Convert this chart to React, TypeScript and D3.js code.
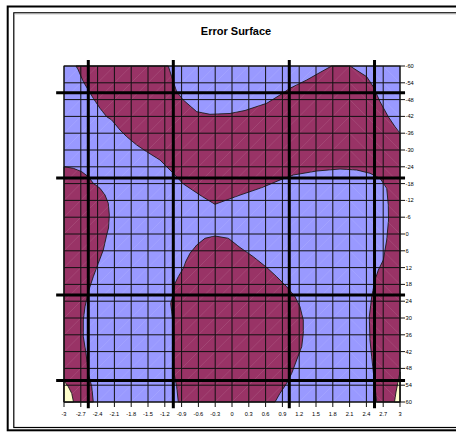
import React from 'react';
import * as d3 from 'd3';

type P = [number, number];

const xLabels = ["-3","-2.7","-2.4","-2.1","-1.8","-1.5","-1.2","-0.9","-0.6","-0.3","0","0.3","0.6","0.9","1.2","1.5","1.8","2.1","2.4","2.7","3"];
const yLabels = ["-60","-54","-48","-42","-36","-30","-24","-18","-12","-6","0","6","12","18","24","30","36","42","48","54","60"];

// contour band (level 2) regions, traced in data units
const topBand: P[] = [
  [-2.786,-60],[-1.138,-60],[-1.048,-54.39],[-0.988,-50.82],[-0.870,-47.86],[-0.630,-43.68],[-0.393,-42.75],
  [-0.036,-43.04],[0.232,-44.11],[0.620,-46.68],[0.857,-49.64],[1.036,-52.04],[1.334,-55],[1.571,-57.68],
  [1.780,-60],[2.107,-60],[2.405,-56.18],[2.523,-52.61],[2.643,-47.25],[2.791,-41.89],[2.911,-38.32],[3,-35.96],
  [3,60],[2.584,60],[2.513,47.39],[2.464,37.86],[2.452,29.54],[2.495,22.39],[2.554,16.43],[2.613,12.86],
  [2.702,9.29],[2.763,2.14],[2.795,-5],[2.791,-10.36],[2.763,-16.32],[2.643,-19.89],[2.464,-21.68],
  [2.227,-22.86],[1.929,-23.21],[1.513,-22.5],[1.095,-21.07],[0.857,-19.29],[0.536,-16.6],[0.143,-13.9],
  [-0.304,-10.61],[-0.548,-13.6],[-0.870,-17.9],[-1.048,-21.68],[-1.286,-26.43],[-1.523,-29.39],[-1.702,-31.79],
  [-1.880,-34.75],[-2,-37.14],[-2.148,-40.71],[-2.238,-41.89],[-2.357,-44.89],[-2.477,-48.46],[-2.566,-51.43],
  [-2.655,-54.39],[-2.745,-58.57]
];
const leftStrip: P[] = [
  [-3,-24.04],[-2.834,-23.46],[-2.684,-22.25],[-2.566,-20.46],[-2.477,-18.11],[-2.357,-16.32],[-2.268,-13.93],
  [-2.209,-10.96],[-2.191,-6.79],[-2.205,-2.14],[-2.238,0.36],[-2.298,5.71],[-2.388,10.46],[-2.477,15.25],
  [-2.566,20.61],[-2.625,25.96],[-2.655,30.71],[-2.655,36.68],[-2.607,42.61],[-2.566,49.75],[-2.505,54.54],
  [-2.477,60],[-3,60]
];
const bottomBlob: P[] = [
  [-0.959,60],[-0.988,54.54],[-1.036,49.75],[-1.059,45],[-1.036,37.86],[-1.059,30.71],[-1.095,24.75],
  [-1.048,21.79],[-1.018,17.61],[-0.959,15.25],[-0.870,12.25],[-0.821,9.64],[-0.75,6.89],[-0.630,3.93],
  [-0.482,1.54],[-0.304,0.71],[-0.066,1.54],[0.143,4.82],[0.380,8.11],[0.620,11.96],[0.798,15.25],
  [0.977,18.82],[1.125,22.39],[1.214,25.96],[1.273,30.71],[1.273,35.46],[1.245,40.25],[1.155,45],
  [1.066,49.75],[0.977,53.32],[0.857,56.89],[0.768,60]
];
// contour band (level 0) regions
const yellowLeft: P[] = [[-3,52.5],[-2.923,54.54],[-2.863,56.89],[-2.830,60],[-3,60]];
const yellowRight: P[] = [[3,49.29],[2.964,52.86],[2.929,56.43],[2.902,60],[3,60]];

// overlaid thick marker lines
const thickX = [-2.566, -1.048, 1.023, 2.545];
const thickY = [-50.46, -20, 21.8, 52.3];

const BLUE = '#9999FF';
const MAROON = '#993366';
const YELLOW = '#FFFFCC';

export default function App() {
  const W = 456, H = 434;
  const L = 64, R = 400, T = 66, B = 402;
  const x = d3.scaleLinear().domain([-3, 3]).range([L, R]);
  const y = d3.scaleLinear().domain([-60, 60]).range([T, B]);
  const poly = d3.line<P>().x(d => x(d[0])).y(d => y(d[1])).curve(d3.curveLinearClosed);
  const xv = xLabels.map(Number);
  const yv = yLabels.map(Number);
  const font = '"Liberation Sans", Arial, sans-serif';

  const diags: JSX.Element[] = [];
  for (let i = 0; i < xv.length - 1; i++) {
    for (let j = 0; j < yv.length - 1; j++) {
      const x0 = x(xv[i]), x1 = x(xv[i + 1]);
      const y0 = y(yv[j]), y1 = y(yv[j + 1]);
      const back = i >= 17;
      diags.push(
        <line key={`d${i}-${j}`} x1={x0} y1={back ? y0 : y1} x2={x1} y2={back ? y1 : y0}
          stroke="#ffffff" strokeOpacity={0.16} strokeWidth={0.6} />
      );
    }
  }

  return (
    <svg width={W} height={H} style={{ position: 'absolute', left: 0, top: 0, background: '#fff' }}>
      {/* chart frame */}
      <rect x={7.7} y={6.5} width={480} height={423.8} fill="none" stroke="#000" strokeWidth={2} />
      <rect x={13.8} y={12.8} width={480} height={414.7} fill="none" stroke="#000" strokeWidth={1.2} />
      <line x1={14.5} y1={14} x2={456} y2={14} stroke="#bbb" strokeWidth={0.8} />

      <text x={236} y={34.7} textAnchor="middle" fontFamily={font} fontWeight="bold" fontSize={11} fill="#000">Error Surface</text>

      {/* surface bands */}
      <rect x={L} y={T} width={R - L} height={B - T} fill={BLUE} />
      {[topBand, leftStrip, bottomBlob].map((p, k) => (
        <path key={`m${k}`} d={poly(p) || ''} fill={MAROON} stroke="#1a1a1a" strokeWidth={0.9} />
      ))}
      {[yellowLeft, yellowRight].map((p, k) => (
        <path key={`y${k}`} d={poly(p) || ''} fill={YELLOW} stroke="#1a1a1a" strokeWidth={0.9} />
      ))}
      {diags}

      {/* grid */}
      {xv.map((v, i) => (
        <line key={`gx${i}`} x1={x(v)} x2={x(v)} y1={T} y2={B + 5} stroke="#111" strokeWidth={1} />
      ))}
      {yv.map((v, i) => (
        <line key={`gy${i}`} x1={L} x2={R + 5} y1={y(v)} y2={y(v)} stroke="#111" strokeWidth={1} />
      ))}
      <rect x={L} y={T} width={R - L} height={B - T} fill="none" stroke="#111" strokeWidth={1} />

      {/* thick overlay lines */}
      {thickX.map((v, i) => (
        <line key={`tx${i}`} x1={x(v)} x2={x(v)} y1={y(-62.1)} y2={y(62.2)} stroke="#000" strokeWidth={3} />
      ))}
      {thickY.map((v, i) => (
        <line key={`ty${i}`} x1={x(-3.14)} x2={x(3.09)} y1={y(v)} y2={y(v)} stroke="#000" strokeWidth={3} />
      ))}

      {/* axis labels */}
      {xLabels.map((s, i) => (
        <text key={`xl${i}`} x={x(xv[i])} y={415.5} textAnchor="middle" fontFamily={font} fontSize={5.7} fill="#000">{s}</text>
      ))}
      {yLabels.map((s, i) => (
        <text key={`yl${i}`} x={405.5} y={y(yv[i]) + 2} textAnchor="start" fontFamily={font} fontSize={5.7} fill="#000">{s}</text>
      ))}
    </svg>
  );
}
